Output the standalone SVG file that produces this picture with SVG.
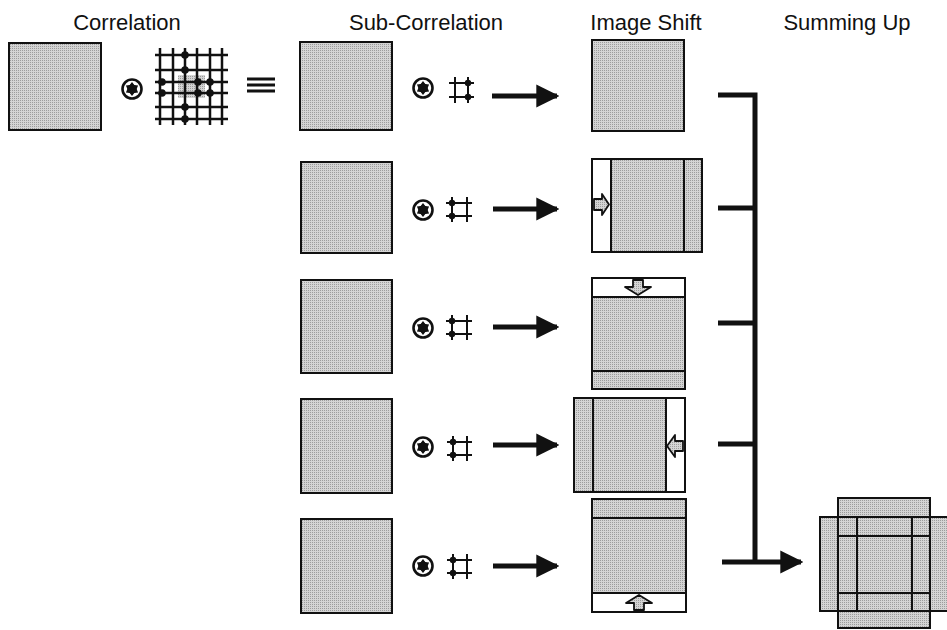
<svg xmlns="http://www.w3.org/2000/svg" width="947" height="630" viewBox="0 0 947 630">
<style>
  .lbl { font-family: "Liberation Sans", Arial, sans-serif; font-size: 22px; fill: #111; text-anchor: middle; }
  .img { fill: url(#half); stroke: #111; stroke-width: 2; }
  .wht { fill: #fff; stroke: #111; stroke-width: 2; }
  .ln { stroke: #111; stroke-width: 2; fill: none; }
  .gl { stroke: #111; stroke-width: 2.5; fill: none; }
  .hl { stroke: #111; stroke-width: 2; fill: none; }
  .dot { fill: #111; }
  .bar { stroke: #111; stroke-width: 5; fill: none; }
  .sarr { fill: url(#half); stroke: #111; stroke-width: 1.8; stroke-linejoin: round; }
</style>
<defs>
  <pattern id="half" width="2" height="2" patternUnits="userSpaceOnUse">
    <rect width="2" height="2" fill="#d4d4d4"/>
    <rect width="1" height="1" fill="#9c9c9c"/>
  </pattern>
  <g id="op">
    <circle cx="0" cy="0" r="9.5" fill="#fff" stroke="#111" stroke-width="2.6"/>
    <polygon points="0,-7 2.3,-4 6.1,-3.5 4.6,0 6.1,3.5 2.3,4 0,7 -2.3,4 -6.1,3.5 -4.6,0 -6.1,-3.5 -2.3,-4" fill="#111"/>
    <circle cx="0" cy="0" r="4.6" fill="#111"/>
  </g>
  <marker id="ah" viewBox="0 0 10 10" refX="9" refY="5" markerWidth="4.6" markerHeight="4.8" markerUnits="strokeWidth" orient="auto">
    <path d="M0,0 L10,5 L0,10 z" fill="#111"/>
  </marker>
</defs>

<rect width="947" height="630" fill="#fff"/>

<g id="labels">
  <text class="lbl" x="127" y="30">Correlation</text>
  <text class="lbl" x="426" y="30">Sub-Correlation</text>
  <text class="lbl" x="646" y="30">Image Shift</text>
  <text class="lbl" x="847" y="30">Summing Up</text>
</g>

<g id="correlation">
  <rect class="img" x="9" y="43" width="92" height="87"/>
  <use href="#op" x="132" y="89"/>
  <g id="kernel-grid">
    <rect x="178" y="75" width="27" height="23" fill="url(#half)"/>
    <path class="gl" d="M160,48V125 M173,48V125 M185,48V125 M197,48V125 M210,48V125 M222,48V125 M155,55H228 M155,70H228 M155,82H228 M155,93H228 M155,107H228 M155,119H228"/>
    <circle class="dot" cx="185" cy="55" r="3.8"/>
    <circle class="dot" cx="185" cy="70" r="3.8"/>
    <circle class="dot" cx="162" cy="82" r="3.8"/>
    <circle class="dot" cx="198" cy="82" r="3.8"/>
    <circle class="dot" cx="210" cy="82" r="3.8"/>
    <circle class="dot" cx="162" cy="93" r="3.8"/>
    <circle class="dot" cx="198" cy="93" r="3.8"/>
    <circle class="dot" cx="210" cy="93" r="3.8"/>
    <circle class="dot" cx="185" cy="107" r="3.8"/>
    <circle class="dot" cx="185" cy="119" r="3.8"/>
  </g>
  <path d="M247,79H275 M247,85H275 M247,91H275" stroke="#111" stroke-width="2.8"/>
</g>

<g id="sub1">
  <rect class="img" x="300" y="42" width="92" height="88"/>
  <use href="#op" x="423" y="88"/>
  <path class="hl" d="M455,77V103 M468,77V103 M449,83H474 M449,97H474"/>
  <circle class="dot" cx="468" cy="83" r="3.2"/>
  <circle class="dot" cx="468" cy="97" r="3.2"/>
</g>
<g id="sub2">
  <rect class="img" x="301" y="162" width="91" height="91"/>
  <use href="#op" x="423" y="210"/>
  <path class="hl" d="M452,197V222 M467,197V222 M446,203H472 M446,216H472"/>
  <circle class="dot" cx="452" cy="203" r="3.2"/>
  <circle class="dot" cx="452" cy="216" r="3.2"/>
</g>
<g id="sub3">
  <rect class="img" x="301" y="280" width="91" height="93"/>
  <use href="#op" x="423" y="328"/>
  <path class="hl" d="M452,315V340 M467,315V340 M446,321H472 M446,334H472"/>
  <circle class="dot" cx="452" cy="321" r="3.2"/>
  <circle class="dot" cx="452" cy="334" r="3.2"/>
</g>
<g id="sub4">
  <rect class="img" x="301" y="399" width="91" height="94"/>
  <use href="#op" x="423" y="447"/>
  <path class="hl" d="M453,436V461 M467,436V461 M447,442H472 M447,455H472"/>
  <circle class="dot" cx="453" cy="442" r="3.2"/>
  <circle class="dot" cx="453" cy="455" r="3.2"/>
</g>
<g id="sub5">
  <rect class="img" x="301" y="519" width="91" height="94"/>
  <use href="#op" x="423" y="566"/>
  <path class="hl" d="M453,554V579 M467,554V579 M447,560H472 M447,573H472"/>
  <circle class="dot" cx="453" cy="560" r="3.2"/>
  <circle class="dot" cx="453" cy="573" r="3.2"/>
</g>

<g id="shift1">
  <rect class="img" x="592" y="40" width="92" height="91"/>
</g>
<g id="shift2">
  <rect class="wht" x="592" y="159" width="110" height="93"/>
  <rect class="img" x="611" y="159" width="91" height="93"/>
  <line class="ln" x1="684" y1="159" x2="684" y2="252"/>
  <polygon class="sarr" points="594,199 602,199 602,194 609,204.5 602,215 602,210 594,210"/>
</g>
<g id="shift3">
  <rect class="wht" x="592" y="278" width="93" height="111"/>
  <rect class="img" x="592" y="297" width="93" height="92"/>
  <line class="ln" x1="592" y1="371" x2="685" y2="371"/>
  <polygon class="sarr" points="633,280 643,280 643,287 651,287 638,295 625,287 633,287"/>
</g>
<g id="shift4">
  <rect class="wht" x="574" y="398" width="111" height="94"/>
  <rect class="img" x="574" y="398" width="92" height="94"/>
  <line class="ln" x1="593" y1="398" x2="593" y2="492"/>
  <polygon class="sarr" points="683,441 675,441 675,435 667,446 675,457 675,451 683,451"/>
</g>
<g id="shift5">
  <rect class="wht" x="592" y="499" width="94" height="113"/>
  <rect class="img" x="592" y="499" width="94" height="94"/>
  <line class="ln" x1="592" y1="518" x2="686" y2="518"/>
  <polygon class="sarr" points="634,610 644,610 644,603 652,603 639,595 626,603 634,603"/>
</g>

<g id="summing">
  <path d="M838,498H930V517H947V611H930V628H838V611H820V517H838Z" fill="url(#half)"/>
  <rect class="ln" x="838" y="498" width="92" height="130"/>
  <rect class="ln" x="820" y="517" width="130" height="94"/>
  <path class="ln" d="M857,517V611 M912,517V611 M838,536H930 M838,593H930"/>
</g>

<g id="connectors">
  <line class="bar" x1="492" y1="96" x2="557" y2="96" marker-end="url(#ah)"/>
  <line class="bar" x1="493" y1="209" x2="557" y2="209" marker-end="url(#ah)"/>
  <line class="bar" x1="493" y1="327" x2="557" y2="327" marker-end="url(#ah)"/>
  <line class="bar" x1="493" y1="445" x2="557" y2="445" marker-end="url(#ah)"/>
  <line class="bar" x1="493" y1="566" x2="557" y2="566" marker-end="url(#ah)"/>
  <path class="bar" d="M718,95H755V562"/>
  <path class="bar" d="M718,208H755"/>
  <path class="bar" d="M718,323H755"/>
  <path class="bar" d="M718,444H755"/>
  <line class="bar" x1="722" y1="562" x2="801" y2="562" marker-end="url(#ah)"/>
</g>
</svg>
